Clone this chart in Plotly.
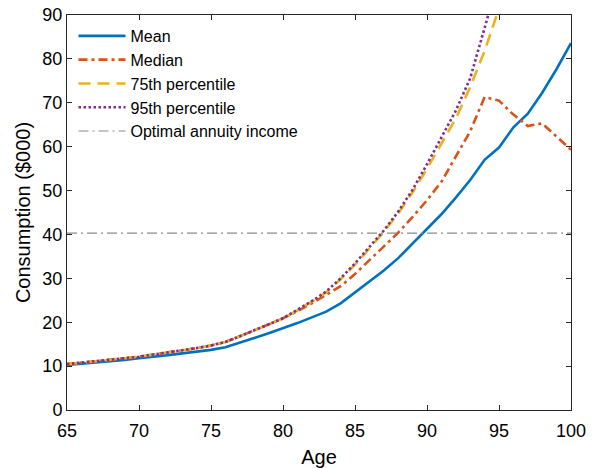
import plotly.graph_objects as go

# Consumption paths by age ($000)
ages = list(range(65, 101))

mean_c = [10.25, 10.5, 10.8, 11.1, 11.4, 11.8, 12.1, 12.5, 12.9, 13.3,
          13.7, 14.3, 15.3, 16.4, 17.5, 18.6, 19.8, 21.1, 22.4, 24.3,
          26.8, 29.3, 31.8, 34.6, 37.9, 41.2, 44.6, 48.4, 52.4, 57.0,
          59.8, 64.4, 67.5, 72.3, 77.7, 83.6]

median_c = [10.45, 10.75, 11.1, 11.45, 11.8, 12.15, 12.6, 13.05, 13.55, 14.1,
            14.7, 15.5, 16.8, 18.1, 19.5, 20.9, 22.5, 24.3, 26.2, 28.2,
            31.0, 34.2, 37.3, 40.4, 44.0, 47.8, 52.0, 57.8, 63.5, 71.3,
            70.5, 67.3, 64.7, 65.3, 62.3, 59.3]

p75_c = [10.45, 10.75, 11.1, 11.45, 11.8, 12.15, 12.6, 13.05, 13.55, 14.1,
         14.7, 15.5, 16.8, 18.1, 19.5, 20.9, 22.7, 24.7, 26.8, 29.8,
         33.1, 36.8, 40.6, 44.8, 49.6, 55.0, 60.8, 66.4, 73.6, 81.8,
         91.5, 102.0, 113.0, 124.0, 136.0, 149.0]

p95_c = [10.45, 10.75, 11.1, 11.45, 11.8, 12.15, 12.6, 13.05, 13.55, 14.1,
         14.7, 15.5, 16.8, 18.1, 19.5, 20.9, 22.8, 24.8, 27.0, 30.0,
         33.4, 37.2, 40.9, 45.2, 50.2, 56.0, 62.0, 68.2, 75.6, 86.5,
         98.5, 111.0, 124.0, 138.0, 153.0, 169.0]

annuity_income = 40.3

FONT = "Liberation Sans, Arial, Helvetica, sans-serif"
AXIS_COLOR = "#262626"

fig = go.Figure()

fig.add_trace(go.Scatter(x=ages, y=mean_c, mode="lines", name="Mean",
                         line=dict(color="#0072BD", width=2.6)))
fig.add_trace(go.Scatter(x=ages, y=median_c, mode="lines", name="Median",
                         line=dict(color="#D95319", width=2.6, dash="9px,4px,3px,4px")))
fig.add_trace(go.Scatter(x=ages, y=p75_c, mode="lines", name="75th percentile",
                         line=dict(color="#EDB120", width=2.6, dash="12px,7px")))
fig.add_trace(go.Scatter(x=ages, y=p95_c, mode="lines", name="95th percentile",
                         line=dict(color="#7E2F8E", width=2.6, dash="2.5px,2.5px")))
fig.add_trace(go.Scatter(x=[ages[0], ages[-1]], y=[annuity_income, annuity_income],
                         mode="lines", name="Optimal annuity income",
                         line=dict(color="#8a8a8a", width=1.1, dash="10px,4px,2px,4px")))

axis_common = dict(
    showgrid=False, zeroline=False, automargin=False,
    showline=True, mirror="ticks", linecolor=AXIS_COLOR, linewidth=1,
    ticks="inside", ticklen=5, tickwidth=1, tickcolor=AXIS_COLOR,
    tickfont=dict(family=FONT, size=18, color="black"),
)

fig.update_xaxes(range=[65, 100], tickvals=[65, 70, 75, 80, 85, 90, 95, 100],
                 ticklabelstandoff=4,
                 title=dict(text="Age", font=dict(family=FONT, size=20, color="black"),
                            standoff=11),
                 **axis_common)
fig.update_yaxes(range=[0, 90], tickvals=list(range(0, 91, 10)),
                 title=dict(text="Consumption ($000)",
                            font=dict(family=FONT, size=20, color="black"), standoff=6),
                 **axis_common)

fig.update_layout(
    width=598, height=468,
    margin=dict(l=67, r=27, t=15, b=58),
    paper_bgcolor="white", plot_bgcolor="white",
    font=dict(family=FONT, color="black"),
    legend=dict(x=0.0129, y=0.99, xanchor="left", yanchor="top",
                bgcolor="rgba(255,255,255,0)", borderwidth=0,
                font=dict(family=FONT, size=16, color="black"),
                tracegroupgap=0, itemwidth=47),
    showlegend=True,
)

fig.write_html("out.html")
